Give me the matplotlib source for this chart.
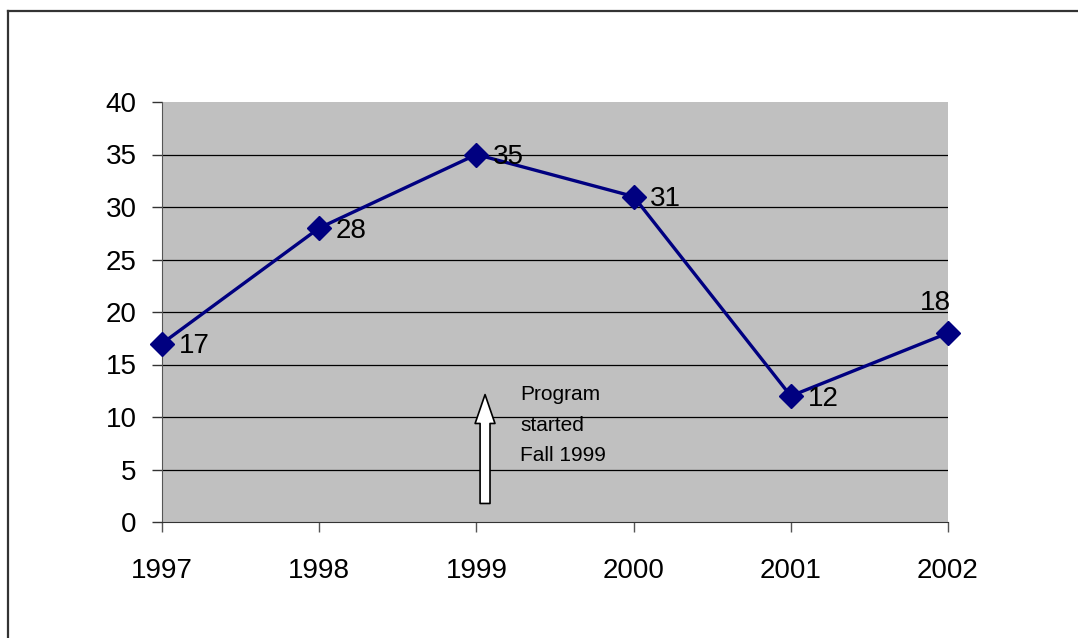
import matplotlib
matplotlib.use("Agg")
import matplotlib.pyplot as plt
from matplotlib.lines import Line2D

plt.rcParams["font.family"] = ["Liberation Sans", "DejaVu Sans"]

years = [1997, 1998, 1999, 2000, 2001, 2002]
values = [17, 28, 35, 31, 12, 18]
y_ticks = [0, 5, 10, 15, 20, 25, 30, 35, 40]
# label placement per point: right of the marker, except 2002 (above)
label_pos = ["right", "right", "right", "right", "right", "above"]

NAVY = "#000080"

fig = plt.figure(figsize=(10.78, 6.38), dpi=100)
fig.patch.set_facecolor("white")

# outer chart frame (only left and top edges visible in the crop)
fig.add_artist(Line2D([8 / 1078, 8 / 1078], [0, 1 - 11 / 638],
                      transform=fig.transFigure, color="#333333", lw=1.6))
fig.add_artist(Line2D([8 / 1078, 1], [1 - 11 / 638, 1 - 11 / 638],
                      transform=fig.transFigure, color="#333333", lw=1.6))

ax = fig.add_axes([162 / 1078, 1 - 522 / 638, 786 / 1078, 420 / 638])
ax.set_facecolor("#c0c0c0")
ax.set_xlim(years[0], years[-1])
ax.set_ylim(0, 40)

for s in ("top", "right"):
    ax.spines[s].set_visible(False)
ax.spines["left"].set_color("#555555")
ax.spines["bottom"].set_color("#333333")

ax.set_yticks(y_ticks)
ax.set_xticks(years)
ax.set_xticklabels([str(y) for y in years])
ax.tick_params(axis="y", direction="out", length=7.2, width=1,
               color="#333333", labelsize=20, pad=11)
ax.tick_params(axis="x", direction="out", length=7.2, width=1,
               color="#555555", labelsize=20, pad=19)

for t in y_ticks[1:-1]:
    ax.axhline(t, color="black", lw=0.9, zorder=1)

ax.plot(years, values, color=NAVY, lw=2.4, marker="D", markersize=12,
        markerfacecolor=NAVY, markeredgecolor=NAVY, zorder=3,
        clip_on=False)

for x, v, pos in zip(years, values, label_pos):
    if pos == "right":
        ax.annotate(str(v), (x, v), xytext=(12, -2), textcoords="offset points",
                    ha="left", va="center", fontsize=20)
    else:
        ax.annotate(str(v), (x, v), xytext=(-9, 12), textcoords="offset points",
                    ha="center", va="bottom", fontsize=20)

# "Program started" arrow
ax.annotate("", xy=(1999.055, 12.4), xytext=(1999.055, 1.5),
            arrowprops=dict(arrowstyle="simple,head_length=1.6,head_width=1.1,tail_width=0.55",
                            fc="white", ec="black", lw=1.2, mutation_scale=13),
            zorder=4)
ax.text(1999.28, 13.0, "Program\nstarted\nFall 1999", ha="left", va="top",
        fontsize=15, linespacing=1.75)

fig.savefig("out.png", dpi=100, facecolor="white")
